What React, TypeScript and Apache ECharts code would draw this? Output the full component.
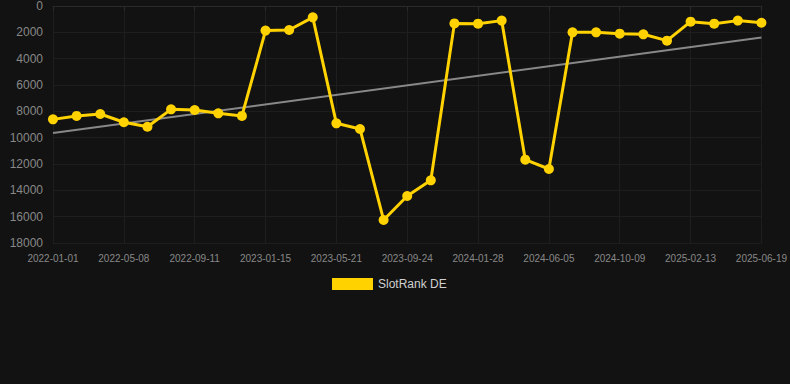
import React, { useEffect, useRef } from "react";
import * as echarts from "echarts";

const dates = [
  "2022-01-01", "2022-02-12", "2022-03-26", "2022-05-08", "2022-06-19", "2022-07-31",
  "2022-09-11", "2022-10-23", "2022-12-04", "2023-01-15", "2023-02-26", "2023-04-09",
  "2023-05-21", "2023-07-02", "2023-08-13", "2023-09-24", "2023-11-05", "2023-12-17",
  "2024-01-28", "2024-03-10", "2024-04-23", "2024-06-05", "2024-07-17", "2024-08-28",
  "2024-10-09", "2024-11-20", "2025-01-01", "2025-02-13", "2025-03-27", "2025-05-08",
  "2025-06-19",
];

const rankValues = [
  8610, 8350, 8200, 8830, 9170, 7850, 7900, 8150, 8350, 1870, 1820, 860,
  8910, 9340, 16250, 14430, 13240, 1320, 1340, 1110, 11670, 12380, 2000, 2000,
  2100, 2150, 2630, 1190, 1340, 1110, 1270,
];

const trendStart = 9650;
const trendEnd = 2400;

const yTicks = { min: 0, max: 18000, interval: 2000 };

export default function App() {
  const ref = useRef<HTMLDivElement>(null);
  useEffect(() => {
    document.body.style.margin = "0";
    document.body.style.background = "#121212";
    if (!ref.current) return;
    const chart = echarts.init(ref.current, null, { renderer: "svg" });
    chart.setOption({
      animation: false,
      backgroundColor: "#121212",
      textStyle: { fontFamily: "Liberation Sans, Arial, sans-serif" },
      grid: { left: 53, right: 28, top: 6, bottom: 141, containLabel: false },
      legend: {
        data: ["SlotRank DE"],
        top: 273,
        left: 327,
        itemWidth: 41,
        itemHeight: 12,
        itemGap: 10,
        icon: "rect",
        textStyle: { color: "#d0d0d0", fontSize: 12 },
      },
      xAxis: {
        type: "category",
        data: dates,
        boundaryGap: false,
        axisLine: { show: true, lineStyle: { color: "#2a2a2a" } },
        axisTick: { show: true, interval: 2, lineStyle: { color: "#2a2a2a" } },
        axisLabel: { interval: 2, color: "#888888", fontSize: 10, margin: 10 },
        splitLine: { show: true, interval: 2, lineStyle: { color: "#1e1e1e" } },
      },
      yAxis: {
        type: "value",
        inverse: true,
        min: yTicks.min,
        max: yTicks.max,
        interval: yTicks.interval,
        axisLine: { show: false },
        axisTick: { show: false },
        axisLabel: {
          color: "#888888",
          fontSize: 12,
          margin: 10,
          formatter: (v: number) => String(v),
        },
        splitLine: { show: true, lineStyle: { color: "#1e1e1e" } },
      },
      series: [
        {
          name: "SlotRank DE",
          type: "line",
          data: rankValues,
          symbol: "circle",
          symbolSize: 10,
          itemStyle: { color: "#FFD200" },
          lineStyle: { color: "#FFD200", width: 3 },
          z: 3,
        },
        {
          name: "Trend",
          type: "line",
          data: [
            [dates[0], trendStart],
            [dates[dates.length - 1], trendEnd],
          ],
          symbol: "none",
          lineStyle: { color: "#888888", width: 2 },
          z: 2,
        },
      ],
    });
    return () => chart.dispose();
  }, []);
  return <div ref={ref} style={{ width: 790, height: 384 }} />;
}
